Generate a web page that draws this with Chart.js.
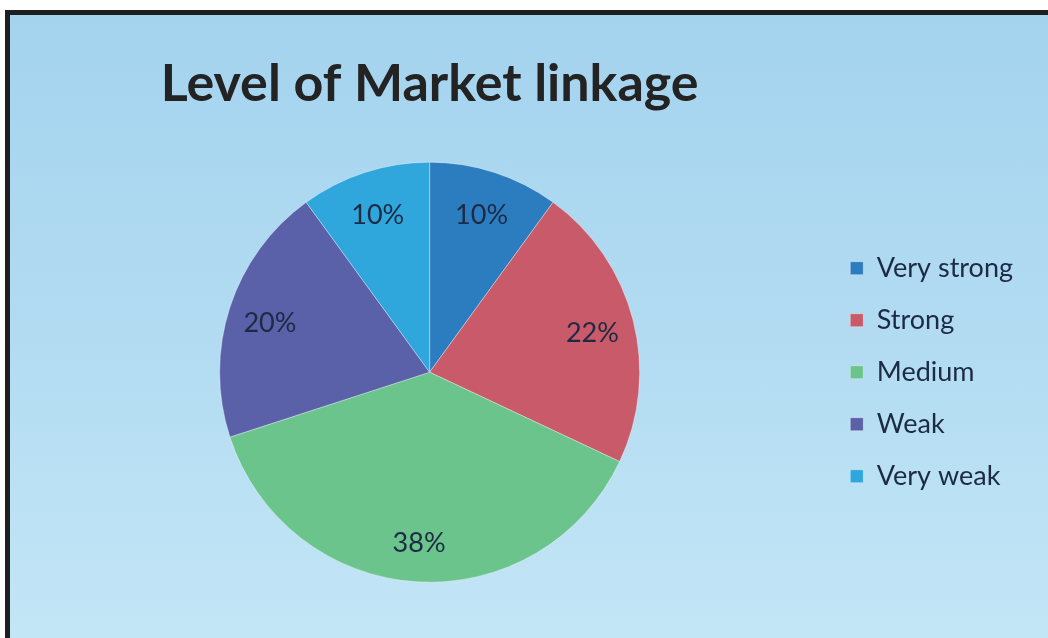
<!DOCTYPE html>
<html lang="en">
<head>
    <meta charset="UTF-8">
    <title>Level of Market linkage</title>
    <style>
        body {
            margin: 0;
            background: #ffffff;
            width: 1048px;
            height: 638px;
            overflow: hidden;
            position: relative;
        }

        /* panel with the dark frame on top and left */
        .panel {
            position: absolute;
            left: 5px;
            top: 10px;
            width: 1038px;
            height: 623px;
            border-top: 5px solid #1f1f1f;
            border-left: 5px solid #1f1f1f;
            background: linear-gradient(to bottom, #a4d3ee 0%, #b3dcf2 55%, #c3e6f6 100%);
        }

        #chartBox {
            position: absolute;
            left: 0;
            top: 0;
            width: 1048px;
            height: 638px;
        }
    </style>
    <script src="https://cdn.jsdelivr.net/npm/chart.js"></script>
</head>
<body>

<div class="panel"></div>
<div id="chartBox">
    <canvas id="myChart" width="1048" height="638"></canvas>
</div>

<script>
    const chartTitle = 'Level of Market linkage';
    const categories = ['Very strong', 'Strong', 'Medium', 'Weak', 'Very weak'];
    const shares = [10, 22, 38, 20, 10];
    const sliceColors = ['#2c7cc0', '#c95a69', '#6cc48d', '#5a61a8', '#2fa6dc'];

    const textColor = '#1c2a44';

    // percentage labels sitting near the outer edge of each slice
    const sliceLabels = {
        id: 'sliceLabels',
        afterDatasetsDraw(chart) {
            const ctx = chart.ctx;
            const meta = chart.getDatasetMeta(0);
            ctx.save();
            ctx.font = '27px Lato';
            ctx.fillStyle = textColor;
            ctx.textAlign = 'center';
            ctx.textBaseline = 'middle';
            meta.data.forEach((arc, i) => {
                const p = arc.getProps(['x', 'y', 'startAngle', 'endAngle', 'outerRadius'], true);
                const mid = (p.startAngle + p.endAngle) / 2;
                const r = p.outerRadius * 0.8;
                ctx.fillText(shares[i] + '%', p.x + Math.cos(mid) * r, p.y + Math.sin(mid) * r + 3);
            });
            ctx.restore();
        }
    };

    const ctx = document.getElementById('myChart').getContext('2d');

    new Chart(ctx, {
        type: 'pie',
        data: {
            labels: categories,
            datasets: [{
                data: shares,
                backgroundColor: sliceColors,
                borderColor: 'rgba(255,255,255,0.35)',
                borderWidth: 1,
                radius: 210
            }]
        },
        options: {
            responsive: false,
            animation: false,
            layout: {
                padding: { left: 34, right: 25, top: 0, bottom: 54 }
            },
            plugins: {
                title: {
                    display: true,
                    fullSize: false,
                    text: chartTitle,
                    color: '#232323',
                    font: { family: 'Lato', size: 52, weight: 'bold' },
                    padding: { top: 53, bottom: 45 }
                },
                legend: {
                    position: 'right',
                    fullSize: false,
                    labels: {
                        color: textColor,
                        font: { family: 'Lato', size: 27 },
                        boxWidth: 13,
                        boxHeight: 13,
                        padding: 25
                    }
                },
                tooltip: { enabled: false }
            }
        },
        plugins: [sliceLabels]
    });
</script>

</body>
</html>
